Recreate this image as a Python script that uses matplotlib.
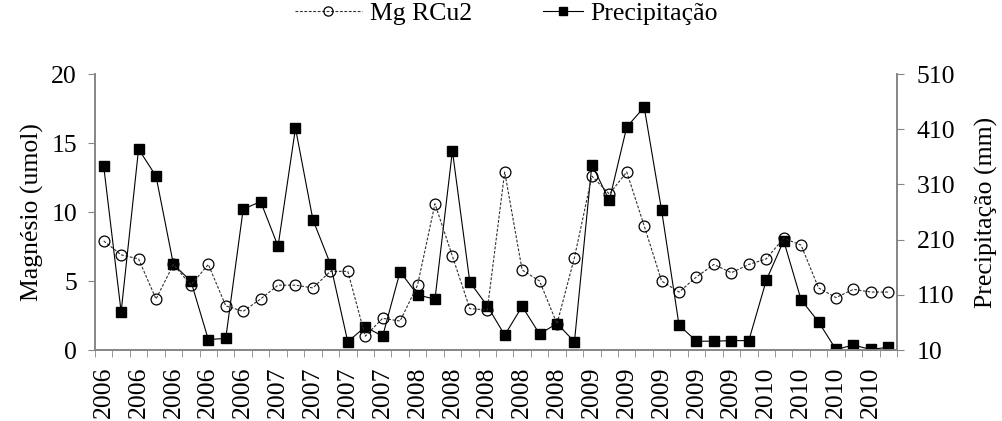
import matplotlib
matplotlib.use('Agg')
import matplotlib.pyplot as plt
import numpy as np

plt.rcParams['font.family'] = ['Liberation Serif', 'DejaVu Serif']

# ano de cada coleta (rotulo mostrado a cada 2 categorias)
anos = ['2006'] * 10 + ['2007'] * 8 + ['2008'] * 10 + ['2009'] * 10 + ['2010'] * 8

# Mg RCu2 (umol)
mg = [7.9, 6.9, 6.6, 3.7, 6.2, 4.7, 6.2, 3.2, 2.8, 3.7,
      4.7, 4.7, 4.5, 5.7, 5.7, 1.0, 2.3, 2.1, 4.7, 10.6,
      6.8, 3.0, 2.9, 12.9, 5.8, 5.0, 1.9, 6.7, 12.6, 11.3,
      12.9, 9.0, 5.0, 4.2, 5.3, 6.2, 5.6, 6.2, 6.6, 8.1,
      7.6, 4.5, 3.8, 4.4, 4.2, 4.2]

# Precipitacao (mm)
prec = [343, 79, 374, 325, 165, 135, 29, 31, 265, 279,
        198, 412, 246, 166, 25, 52, 35, 152, 110, 102,
        371, 133, 90, 37, 89, 39, 58, 25, 346, 281,
        414, 450, 263, 55, 26, 26, 27, 27, 136, 208,
        101, 61, 11, 19, 11, 15]

x = np.arange(len(anos))
cinza = '#868686'
fs = 18.5

fig = plt.figure(figsize=(10.03, 4.21), dpi=100)
ax = fig.add_axes([0.0947, 0.1686, 0.7996, 0.6556])
ax2 = ax.twinx()

l2, = ax2.plot(x, prec, color='black', lw=0.8, marker='s', markersize=6.5,
               markerfacecolor='black', markeredgecolor='black', label='Precipitação')
l1, = ax.plot(x, mg, color='#303030', lw=0.8, linestyle=(0, (2.5, 1.5)), marker='o',
              markersize=7.8, markerfacecolor='none', markeredgecolor='black',
              markeredgewidth=0.9, label='Mg RCu2')
ax.set_zorder(ax2.get_zorder() + 1)
ax.patch.set_visible(False)

ax.set_xlim(-0.5, len(anos) - 0.5)
ax.set_ylim(0, 20)
ax.set_yticks([0, 5, 10, 15, 20])
ax2.set_ylim(10, 510)
ax2.set_yticks(np.arange(10, 511, 100))

ax.set_xticks(x[::2])
ax.set_xticklabels(anos[::2], rotation=90)
ax.set_xticks(np.arange(-0.5, len(anos), 1), minor=True)
ax.tick_params(axis='x', which='major', length=0, pad=12, labelsize=fs)
ax.tick_params(axis='x', which='minor', length=5, color=cinza, direction='out')
ax.tick_params(axis='y', length=5, color=cinza, labelsize=fs, pad=8)
ax2.tick_params(axis='y', length=5, color=cinza, labelsize=fs, pad=9)

for a in (ax, ax2):
    a.spines['top'].set_visible(False)
    for s in ('left', 'right', 'bottom'):
        a.spines[s].set_color(cinza)
        a.spines[s].set_linewidth(1.2)

ax.set_ylabel('Magnésio (umol)', fontsize=fs, labelpad=5)
ax2.set_ylabel('Precipitação (mm)', fontsize=fs, labelpad=14)

# duas legendas para ter comprimentos de linha diferentes, como no original
leg1 = fig.legend(handles=[l1], loc='center left', bbox_to_anchor=(295 / 1003, 0.969),
                  frameon=False, fontsize=fs, handlelength=2.6, handletextpad=0.3,
                  borderpad=0, borderaxespad=0, markerscale=0.85)
fig.legend(handles=[l2], loc='center left', bbox_to_anchor=(543 / 1003, 0.969),
           frameon=False, fontsize=fs, handlelength=1.55, handletextpad=0.3,
           borderpad=0, borderaxespad=0, markerscale=0.85)

fig.savefig('out.png', dpi=100)
